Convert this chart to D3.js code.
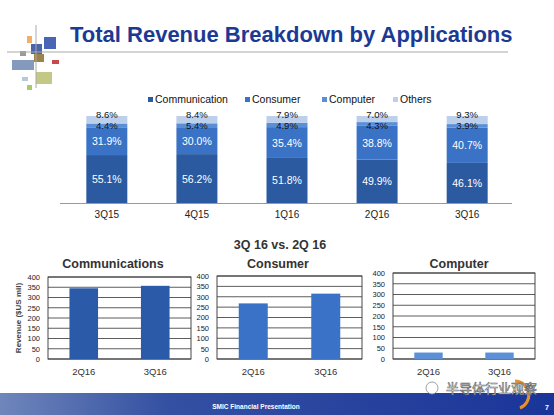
<!DOCTYPE html>
<html><head><meta charset="utf-8">
<script src="https://cdn.jsdelivr.net/npm/d3@7"></script>
<style>body{margin:0;background:#fff}svg{display:block;font-family:"Liberation Sans",Arial,sans-serif}</style>
</head><body>
<svg id="c" width="554" height="415"></svg>
<script>
const quarters = ["3Q15","4Q15","1Q16","2Q16","3Q16"];
const segments = ["Communication","Consumer","Computer","Others"];
const communication = [55.1,56.2,51.8,49.9,46.1];
const consumer = [31.9,30.0,35.4,38.8,40.7];
const computer = [4.4,5.4,4.9,4.3,3.9];
const others = [8.6,8.4,7.9,7.0,9.3];
const segColors = ["#2b5aa0","#3a72c6","#5a8ed6","#bccfeb"];
const labelColors = ["#fff","#fff","#111","#111"];

const panelQuarters = ["2Q16","3Q16"];
const panelTitles = ["Communications","Consumer","Computer"];
const commRevenue = [345,357];
const consRevenue = [268,315];
const compRevenue = [30,30];
const yTicks = [0,50,100,150,200,250,300,350,400];

const svg = d3.select("#c");

// header decoration
const deco = svg.append("g");
[[27,36,5,7,"#f0a050"],[20,51,6,5,"#888"],[31,44,11,10,"#2a4a9a"],[44,37,12,12,"#2a4aa8"],[52,60,7,4,"#c0282d"],[12,60,22,10,"#6d88b0"],[34,54,10,8,"#8a6d2a"],[36,72,16,12,"#b8c070"],[22,77,6,4,"#a8c0d8"],[27,85,5,5,"#9cc050"]]
  .forEach(d=>deco.append("rect").attr("x",d[0]).attr("y",d[1]).attr("width",d[2]).attr("height",d[3]).attr("fill",d[4]).attr("opacity",0.85));
svg.append("line").attr("x1",7).attr("x2",508).attr("y1",52).attr("y2",52).attr("stroke","#aaa").attr("stroke-width",1.2);
svg.append("line").attr("x1",36).attr("x2",36).attr("y1",25).attr("y2",88).attr("stroke","#aaa").attr("stroke-width",1);
svg.append("text").attr("x",70).attr("y",42).attr("font-size",22).attr("font-weight","bold").attr("fill","#1b3a94").text("Total Revenue Breakdown by Applications");

// top stacked chart
const x = d3.scaleBand().domain(quarters).range([62,512]).paddingInner(0.545).paddingOuter(0.27);
const y = d3.scaleLinear().domain([0,100]).range([203,116]);
const rows = quarters.map((q,i)=>({q,Communication:communication[i],Consumer:consumer[i],Computer:computer[i],Others:others[i]}));
const stacked = d3.stack().keys(segments)(rows);
const topG = svg.append("g");
stacked.forEach((layer,k)=>{
  topG.append("g").selectAll("rect").data(layer).join("rect")
    .attr("x",d=>x(d.data.q)).attr("width",x.bandwidth())
    .attr("y",d=>y(d[1])).attr("height",d=>y(d[0])-y(d[1])).attr("fill",segColors[k]);
});
const labelY = [
  d=>(y(d[0])+y(d[1]))/2 + 4,
  d=>(y(d[0])+y(d[1]))/2 + 4,
  d=>y(100) + 13,
  d=>y(100) + 1.5
];
stacked.forEach((layer,k)=>{
  topG.append("g").selectAll("text").data(layer).join("text")
    .attr("x",d=>x(d.data.q)+x.bandwidth()/2)
    .attr("y",labelY[k])
    .attr("text-anchor","middle").attr("font-size",k>=2?9.5:10.5).attr("fill",labelColors[k])
    .text(d=>(d[1]-d[0]).toFixed(1)+"%");
});
topG.append("line").attr("x1",60).attr("x2",512).attr("y1",203.5).attr("y2",203.5).attr("stroke","#999");
const xa = topG.append("g").attr("transform","translate(0,203)").call(d3.axisBottom(x).tickSize(0).tickPadding(8));
xa.select(".domain").remove();
xa.selectAll("text").attr("font-size",10).attr("fill","#222").attr("font-family","Liberation Sans, Arial, sans-serif");

// legend
const legX = [148,245,322,393];
segments.forEach((s,i)=>{
  const g = svg.append("g").attr("transform",`translate(${legX[i]},103)`);
  g.append("rect").attr("x",0).attr("y",-6).attr("width",5).attr("height",5).attr("fill",segColors[i]);
  g.append("text").attr("x",7).attr("y",0).attr("font-size",10.5).attr("fill","#111").text(s);
});

// subtitle
svg.append("text").attr("x",280).attr("y",249).attr("text-anchor","middle").attr("font-size",12.5).attr("font-weight","bold").attr("fill","#333").text("3Q 16 vs. 2Q 16");

// panels
const panels = [
  {title:panelTitles[0],vals:commRevenue,color:"#2a5aa8",l:48,r:191,t:277,tx:113},
  {title:panelTitles[1],vals:consRevenue,color:"#3a72c8",l:217,r:362,t:276,tx:278},
  {title:panelTitles[2],vals:compRevenue,color:"#5b8fd6",l:393,r:535,t:273,tx:459}
];
panels.forEach((p,pi)=>{
  const g = svg.append("g");
  const b = 359;
  const py = d3.scaleLinear().domain([0,400]).range([b,p.t]);
  const px = d3.scaleBand().domain(panelQuarters).range([p.l,p.r]).paddingInner(0.6).paddingOuter(0.3);
  g.append("g").selectAll("line").data(yTicks).join("line")
    .attr("x1",p.l).attr("x2",p.r).attr("y1",d=>py(d)).attr("y2",d=>py(d)).attr("stroke","#333").attr("stroke-width",0.8);
  g.append("rect").attr("x",p.l).attr("y",p.t).attr("width",p.r-p.l).attr("height",b-p.t).attr("fill","none").attr("stroke","#333").attr("stroke-width",0.9);
  g.selectAll("rect.bar").data(p.vals).join("rect").attr("class","bar")
    .attr("x",(d,i)=>px(panelQuarters[i])).attr("width",px.bandwidth())
    .attr("y",d=>py(d)).attr("height",d=>b-py(d)).attr("fill",p.color);
  const ya = g.append("g").attr("transform",`translate(${p.l},0)`).call(d3.axisLeft(py).tickValues(yTicks).tickSize(0).tickPadding(8));
  ya.select(".domain").remove();
  ya.selectAll("text").attr("font-size",7.5).attr("fill","#222").attr("font-family","Liberation Sans, Arial, sans-serif");
  const xb = g.append("g").attr("transform",`translate(0,${b})`).call(d3.axisBottom(px).tickSize(0).tickPadding(9));
  xb.select(".domain").remove();
  xb.selectAll("text").attr("font-size",9.5).attr("fill","#333").attr("font-family","Liberation Sans, Arial, sans-serif");
  g.append("text").attr("x",p.tx).attr("y",268).attr("text-anchor","middle").attr("font-size",12.5).attr("font-weight","bold").attr("fill","#333").text(p.title);
});
svg.append("text").attr("transform","translate(21,318) rotate(-90)").attr("text-anchor","middle").attr("font-size",8).attr("font-weight","bold").attr("fill","#444").text("Revenue ($US mil)");

// footer
const defs = svg.append("defs");
const lg = defs.append("linearGradient").attr("id","fg").attr("x1","0").attr("x2","1");
lg.append("stop").attr("offset","0").attr("stop-color","#6f86bb");
lg.append("stop").attr("offset","0.3").attr("stop-color","#3450a2");
lg.append("stop").attr("offset","1").attr("stop-color","#1a3599");
svg.append("rect").attr("x",0).attr("y",393).attr("width",554).attr("height",22).attr("fill","url(#fg)");
svg.append("text").attr("x",256).attr("y",409).attr("text-anchor","middle").attr("font-size",6.5).attr("font-weight","bold").attr("fill","#fff").text("SMIC Financial Presentation");
svg.append("text").attr("x",547).attr("y",410).attr("text-anchor","middle").attr("font-size",7).attr("font-weight","bold").attr("fill","#fff").text("7");
svg.append("path").attr("d","M515,381 A14,14 0 0 1 520,408").attr("fill","none").attr("stroke","#e8902a").attr("stroke-width",3);
svg.append("text").attr("x",446).attr("y",393).attr("font-size",13).attr("fill","#fff").attr("stroke","#666").attr("stroke-width",0.6).attr("font-family","Noto Sans CJK SC").text("半导体行业观察");
svg.append("circle").attr("cx",432).attr("cy",388).attr("r",6).attr("fill","#fff").attr("stroke","#888").attr("stroke-width",0.8);
</script>
</body></html>
